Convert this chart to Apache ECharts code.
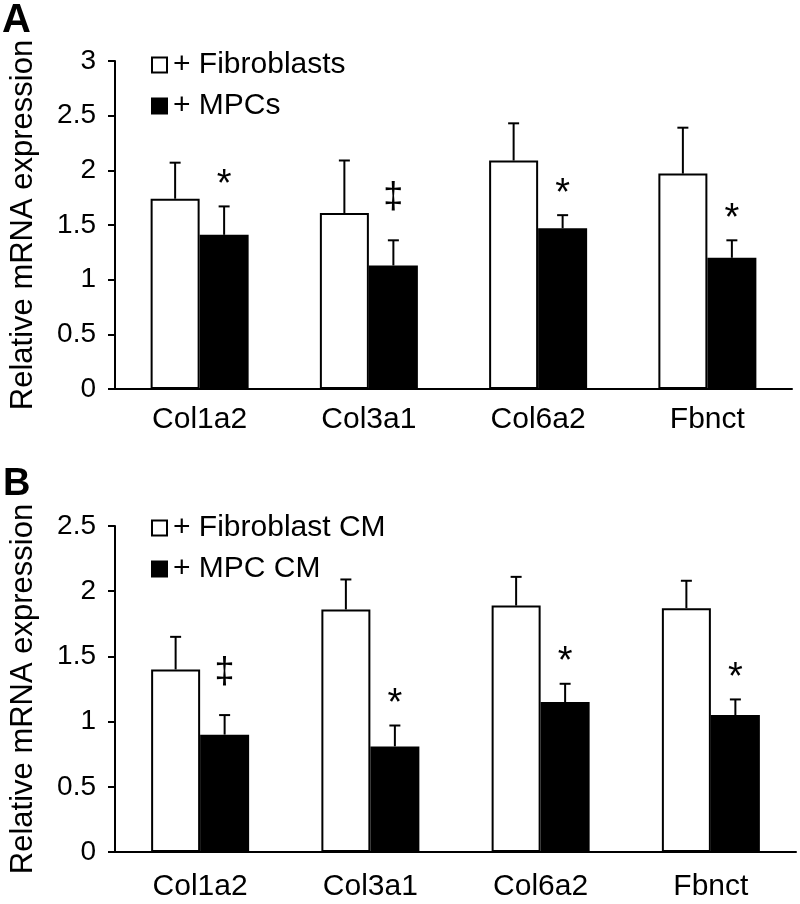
<!DOCTYPE html>
<html>
<head>
<meta charset="utf-8">
<script src="https://cdn.jsdelivr.net/npm/echarts@6/dist/echarts.min.js"></script>
<style>
  html, body { margin: 0; padding: 0; background: #fff; }
  #chart { width: 800px; height: 904px; }
</style>
</head>
<body>
<div id="chart"></div>
<script>
// genes on the x axis
var categories = ["Col1a2", "Col3a1", "Col6a2", "Fbnct"];

// panel A: co-culture
var aFibro = [1.74, 1.61, 2.09, 1.97];
var aFibroErr = [0.33, 0.48, 0.34, 0.42];
var aMpc = [1.41, 1.13, 1.47, 1.20];
var aMpcErr = [0.26, 0.23, 0.12, 0.16];
var aMarks = ["*", "\u2021", "*", "*"];
var aTicks = [0, 3, 0.5]; // min, max, step

// panel B: conditioned medium
var bFibro = [1.40, 1.86, 1.89, 1.87];
var bFibroErr = [0.25, 0.23, 0.22, 0.21];
var bMpc = [0.90, 0.81, 1.15, 1.05];
var bMpcErr = [0.15, 0.16, 0.14, 0.12];
var bMarks = ["\u2021", "*", "*", "*"];
var bTicks = [0, 2.5, 0.5];

var FONT = "Liberation Sans, Arial, sans-serif";
var BAR_W = 49;

// 误差线 + 显著性标记
function errSeries(axisIdx, vals, errs, side, marks) {
    var data = vals.map(function (v, i) { return [i, v, errs[i]]; });
    return {
        type: "custom",
        xAxisIndex: axisIdx,
        yAxisIndex: axisIdx,
        silent: true,
        z: 5,
        data: data,
        renderItem: function (params, api) {
            var i = api.value(0);
            var v = api.value(1);
            var e = api.value(2);
            var p0 = api.coord([i, v]);
            var p1 = api.coord([i, v + e]);
            var x = p0[0] + side * BAR_W / 2;
            var style = { stroke: "#000", lineWidth: 2 };
            var kids = [
                { type: "line", shape: { x1: x, y1: p0[1], x2: x, y2: p1[1] }, style: style },
                { type: "line", shape: { x1: x - 5.5, y1: p1[1], x2: x + 5.5, y2: p1[1] }, style: style }
            ];
            if (marks) {
                var m = marks[params.dataIndex];
                var star = m === "*";
                kids.push({
                    type: "text",
                    style: {
                        text: m,
                        x: x,
                        y: p1[1] - (star ? 21 : 42),
                        align: "center",
                        verticalAlign: "middle",
                        fontSize: star ? 38 : 36,
                        fontFamily: FONT,
                        fill: "#000"
                    }
                });
            }
            return { type: "group", children: kids };
        }
    };
}

function barSeries(axisIdx, name, vals, fill) {
    return {
        name: name,
        type: "bar",
        xAxisIndex: axisIdx,
        yAxisIndex: axisIdx,
        data: vals,
        barWidth: BAR_W,
        barGap: "0%",
        itemStyle: { color: fill, borderColor: "#000", borderWidth: 2 }
    };
}

function xAxisOf(idx, margin) {
    return {
        type: "category",
        gridIndex: idx,
        data: categories,
        axisLine: { lineStyle: { color: "#000", width: 2 } },
        axisTick: { length: 9, lineStyle: { color: "#000", width: 2 } },
        axisLabel: { color: "#000", fontSize: 30, fontFamily: FONT, margin: margin }
    };
}

function yAxisOf(idx, t) {
    return {
        type: "value",
        gridIndex: idx,
        min: t[0],
        max: t[1],
        interval: t[2],
        name: "Relative mRNA expression",
        nameLocation: "middle",
        nameGap: 76,
        nameTextStyle: { color: "#000", fontSize: 31, fontFamily: FONT },
        splitLine: { show: false },
        axisLine: { show: true, lineStyle: { color: "#000", width: 2 } },
        axisTick: { show: true, length: 7, lineStyle: { color: "#000", width: 2 } },
        axisLabel: { color: "#000", fontSize: 28, fontFamily: FONT, margin: 19 }
    };
}

function legendOf(names, fills, top) {
    return {
        orient: "vertical",
        left: 146,
        top: top,
        itemWidth: 15,
        itemHeight: 15,
        itemGap: 11,
        icon: "rect",
        selectedMode: false,
        textStyle: { color: "#000", fontSize: 30, fontFamily: FONT, padding: [0, 0, 0, 1] },
        data: names.map(function (n, k) {
            return { name: n, itemStyle: { color: fills[k], borderColor: "#000", borderWidth: 2 } };
        })
    };
}

var myChart = echarts.init(document.getElementById("chart"));
var option = {
    backgroundColor: "#fff",
    animation: false,
    title: [
        { text: "A", left: 2, top: 1, padding: 0, textStyle: { fontSize: 40, fontWeight: "bold", fontFamily: FONT, color: "#000" } },
        { text: "B", left: 3, top: 466, padding: 0, textStyle: { fontSize: 38, fontWeight: "bold", fontFamily: FONT, color: "#000" } }
    ],
    legend: [
        legendOf(["+ Fibroblasts", "+ MPCs"], ["#fff", "#000"], 45),
        legendOf(["+ Fibroblast CM", "+ MPC CM"], ["#fff", "#000"], 508)
    ],
    grid: [
        { left: 110, right: 8, top: 61, height: 328 },
        { left: 110, right: 4, top: 526, height: 326 }
    ],
    xAxis: [xAxisOf(0, 16), xAxisOf(1, 20)],
    yAxis: [yAxisOf(0, aTicks), yAxisOf(1, bTicks)],
    series: [
        barSeries(0, "+ Fibroblasts", aFibro, "#fff"),
        barSeries(0, "+ MPCs", aMpc, "#000"),
        errSeries(0, aFibro, aFibroErr, -1, null),
        errSeries(0, aMpc, aMpcErr, 1, aMarks),
        barSeries(1, "+ Fibroblast CM", bFibro, "#fff"),
        barSeries(1, "+ MPC CM", bMpc, "#000"),
        errSeries(1, bFibro, bFibroErr, -1, null),
        errSeries(1, bMpc, bMpcErr, 1, bMarks)
    ]
};
myChart.setOption(option);
</script>
</body>
</html>
